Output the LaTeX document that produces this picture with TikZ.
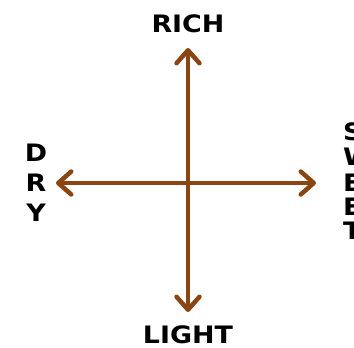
\documentclass[tikz,border=0pt]{standalone}
\usepackage{fontspec}
\setmainfont{DejaVu Sans}
\usetikzlibrary{arrows.meta}
\definecolor{axisbrown}{RGB}{139,69,19}
\tikzset{
  tipbarb/.tip={Straight Barb[length=13pt,width=23pt,line width=4.5pt,round]},
  axis/.style={draw=axisbrown, line width=4pt, {tipbarb}-{tipbarb}},
  lbl/.style={font=\bfseries\fontsize{24}{24}\selectfont, text=black, inner sep=0pt, xscale=1.12}
}
\begin{document}
\begin{tikzpicture}[x=1pt,y=-1pt]
\useasboundingbox (0,0) rectangle (354,348);
\coordinate (top) at (188,48);
\coordinate (bot) at (188,312);
\coordinate (left) at (56,183);
\coordinate (right) at (316,183);
\draw[axis] (top) -- (bot);
\draw[axis] (left) -- (right);
\node[lbl] (rich) at (188,24) {RICH};
\node[lbl] (light) at (188,335) {LIGHT};
\node[lbl] (d) at (36,153) {D};
\node[lbl] (r) at (36,183) {R};
\node[lbl] (y) at (36,213) {Y};
\node[lbl, anchor=west] (s1) at (343,132) {S};
\node[lbl, anchor=west] (s2) at (343,157) {W};
\node[lbl, anchor=west] (s3) at (343,183) {E};
\node[lbl, anchor=west] (s4) at (343,207) {E};
\node[lbl, anchor=west] (s5) at (343,231) {T};
\end{tikzpicture}
\end{document}
